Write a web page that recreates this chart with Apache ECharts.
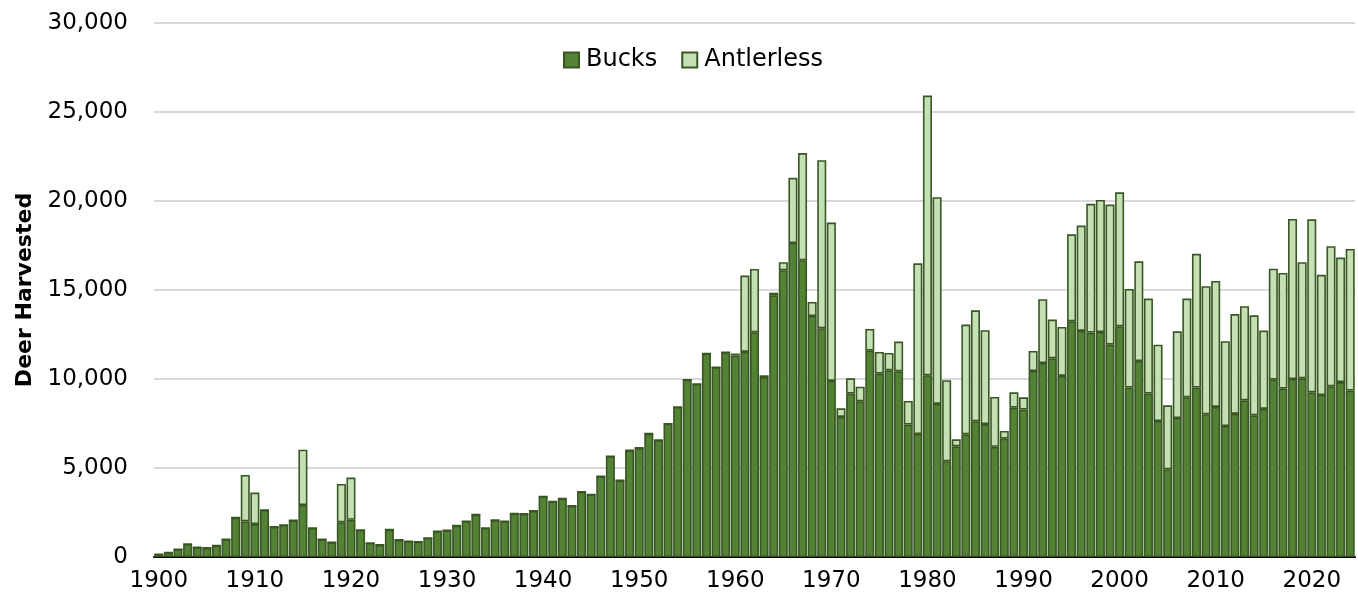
<!DOCTYPE html>
<html>
<head>
<meta charset="utf-8">
<script src="https://cdn.jsdelivr.net/npm/echarts@6/dist/echarts.min.js"></script>
<style>html,body{margin:0;padding:0;background:#fff}#c{width:1358px;height:605px}</style>
</head>
<body>
<div id="c"></div>
<script>
const years = [];
for (let y = 1900; y <= 2024; y++) years.push(String(y));

const bucks = [
  150, 250, 430, 730, 540, 510, 640, 990, 2210, 2000,
  1850, 2640, 1690, 1800, 2060, 2920, 1630, 990, 820, 1950,
  2090, 1520, 790, 680, 1540, 960, 880, 860, 1070, 1450,
  1500, 1760, 2010, 2380, 1630, 2070, 2010, 2440, 2420, 2590,
  3400, 3120, 3290, 2870, 3660, 3510, 4530, 5660, 4310, 5990,
  6130, 6930, 6570, 7490, 8430, 9960, 9720, 11430, 10660, 11500,
  11310, 11520, 12620, 10110, 14700, 16110, 17640, 16670, 13540, 12850,
  9890, 7870, 9180, 8750, 11590, 10300, 10490, 10430, 7440, 6910,
  10210, 8600, 5380, 6220, 6890, 7620, 7470, 6190, 6650, 8390,
  8280, 10450, 10900, 11160, 10170, 13240, 12700, 12610, 12640, 11930,
  12960, 9520, 11010, 9180, 7640, 4930, 7810, 8970, 9520, 8020,
  8430, 7360, 8040, 8800, 7960, 8320, 9960, 9460, 10000, 10040,
  9250, 9100, 9590, 9830, 9350
];

const antlerless = [
  0, 0, 0, 0, 0, 0, 0, 0, 0, 2610,
  1770, 0, 0, 0, 0, 3110, 0, 0, 0, 2150,
  2370, 0, 0, 0, 0, 0, 0, 0, 0, 0,
  0, 0, 0, 0, 0, 0, 0, 0, 0, 0,
  0, 0, 0, 0, 0, 0, 0, 0, 0, 0,
  0, 0, 0, 0, 0, 0, 0, 0, 0, 0,
  120, 4290, 3560, 100, 150, 450, 3660, 6020, 790, 9440,
  8900, 480, 860, 820, 1220, 1220, 970, 1670, 1330, 9590,
  15710, 11610, 4550, 390, 6170, 6240, 5270, 2800, 430, 860,
  690, 1130, 3580, 2180, 2750, 4890, 5920, 7230, 7420, 7870,
  7530, 5540, 5600, 5340, 4290, 3590, 4870, 5550, 7510, 7190,
  7080, 4760, 5610, 5290, 5620, 4400, 6240, 6500, 8990, 6520,
  9720, 6750, 7870, 6990, 7960
];

const yTicks = { min: 0, max: 30000, interval: 5000 };

const FONT = 'DejaVu Sans';
const chart = echarts.init(document.getElementById('c'), null, { renderer: 'canvas' });
chart.setOption({
  animation: false,
  backgroundColor: '#ffffff',
  textStyle: { fontFamily: FONT },
  legend: {
    top: 43,
    left: 558,
    icon: 'rect',
    itemWidth: 15,
    itemHeight: 15,
    itemGap: 24,
    textStyle: { fontFamily: FONT, fontSize: 24, color: '#000', padding: [0, 0, 0, 2] },
    data: ['Bucks', 'Antlerless']
  },
  grid: { left: 154, right: 3, top: 23, bottom: 48, containLabel: false },
  xAxis: {
    type: 'category',
    data: years,
    boundaryGap: true,
    axisLine: { lineStyle: { color: '#000', width: 2 } },
    axisTick: { interval: 9, length: 7, lineStyle: { color: '#000', width: 2 } },
    axisLabel: { interval: 9, margin: 13, fontFamily: FONT, fontSize: 23, color: '#000' }
  },
  yAxis: {
    type: 'value',
    min: yTicks.min,
    max: yTicks.max,
    interval: yTicks.interval,
    name: 'Deer Harvested',
    nameLocation: 'middle',
    nameGap: 118,
    nameTextStyle: { fontFamily: FONT, fontSize: 22, fontWeight: 'bold', color: '#000' },
    axisLine: { show: false },
    axisTick: { show: false },
    axisLabel: {
      margin: 26,
      fontFamily: FONT,
      fontSize: 23,
      color: '#000',
      formatter: v => v.toLocaleString('en-US')
    },
    splitLine: { lineStyle: { color: '#d9d9d9', width: 2 } }
  },
  series: [
    {
      name: 'Bucks',
      type: 'bar',
      stack: 'total',
      data: bucks,
      barCategoryGap: '6%',
      itemStyle: { color: '#548235', borderColor: '#385723', borderWidth: 1.6 }
    },
    {
      name: 'Antlerless',
      type: 'bar',
      stack: 'total',
      data: antlerless,
      barCategoryGap: '6%',
      itemStyle: { color: '#c5e0b4', borderColor: '#385723', borderWidth: 1.6 }
    }
  ]
});
</script>
</body>
</html>
